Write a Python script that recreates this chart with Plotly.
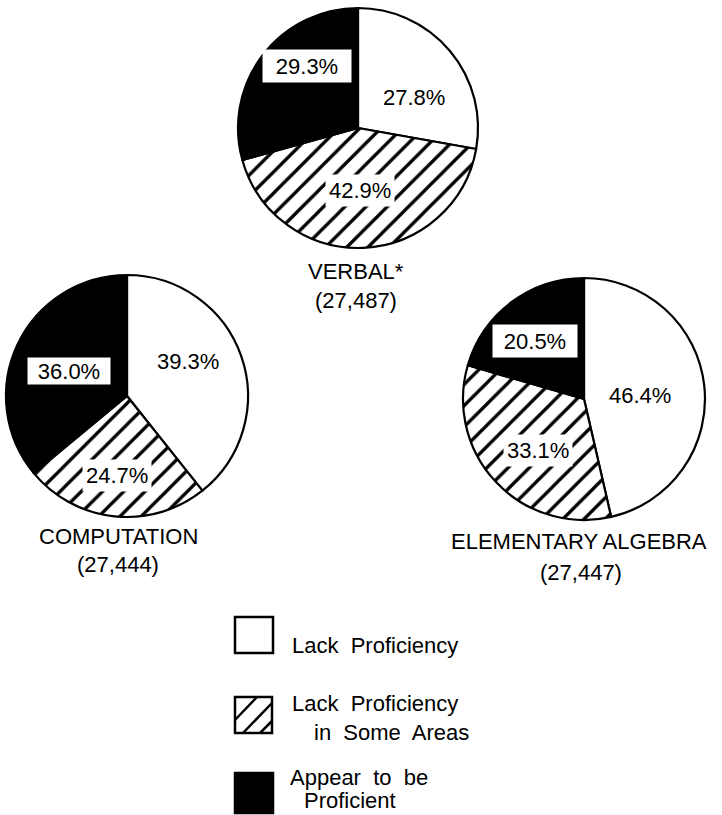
import plotly.graph_objects as go

# Proficiency categories (drawn clockwise from 12 o'clock)
categories = ["Lack Proficiency", "Lack Proficiency in Some Areas", "Appear to be Proficient"]

# Subject areas with number of students tested
subjects = ["VERBAL*", "COMPUTATION", "ELEMENTARY ALGEBRA"]
counts = ["(27,487)", "(27,444)", "(27,447)"]

# Percent of students in each category, per subject
verbal = [27.8, 42.9, 29.3]
computation = [39.3, 24.7, 36.0]
algebra = [46.4, 33.1, 20.5]

W, H = 722, 815
FONT = "Liberation Sans, Arial, Helvetica, sans-serif"


def px(x):
    return x / W


def py(y):
    return 1 - y / H


# pie centre (px) and radius (px)
pie_geom = [((358, 128), 120), ((127, 396), 121), ((584, 399), 121)]
# label centres (px) for each slice of each pie
label_pos = [
    [(414, 98), (360, 190), (307, 66)],
    [(188, 361), (117, 475), (69, 371)],
    [(640, 395), (538, 450), (535, 341)],
]
# white label box sizes for the black slices
box_size = [(82, 26), (76, 20), (78, 26)]
# title centres (px)
title_pos = [(356, 271), (118, 536), (579, 541)]
count_pos = [(356, 300), (118, 564), (581, 572)]

fills = ["white", "white", "black"]
shapes_pat = ["", "/", ""]

fig = go.Figure()
series = [verbal, computation, algebra]
annotations = []


def text_ann(x, y, text, size, **kw):
    d = dict(x=px(x), y=py(y), xref="paper", yref="paper", text=text,
             showarrow=False, xanchor="center", yanchor="middle",
             font=dict(family=FONT, size=size, color="black"))
    d.update(kw)
    return d


for i, vals in enumerate(series):
    (cx, cy), r = pie_geom[i]
    fig.add_trace(go.Pie(
        labels=categories,
        values=vals,
        sort=False,
        direction="clockwise",
        rotation=0,
        textinfo="none",
        hoverinfo="skip",
        showlegend=False,
        marker=dict(
            colors=fills,
            line=dict(color="black", width=2.2),
            pattern=dict(shape=shapes_pat, fgcolor="black", bgcolor="white",
                         size=15, solidity=0.22, fillmode="replace"),
        ),
        domain=dict(x=[px(cx - r), px(cx + r)], y=[py(cy + r), py(cy - r)]),
    ))
    for j, v in enumerate(vals):
        lx, ly = label_pos[i][j]
        extra = {}
        if j == 2:
            bw, bh = box_size[i]
            extra = dict(bgcolor="white", width=bw, height=bh, borderpad=3)
        elif j == 1:
            extra = dict(bgcolor="white", borderpad=3)
        annotations.append(text_ann(lx, ly, f"{v:.1f}%", 22, **extra))
    annotations.append(text_ann(title_pos[i][0], title_pos[i][1], subjects[i], 22))
    annotations.append(text_ann(count_pos[i][0], count_pos[i][1], counts[i], 22))

# Legend: swatches drawn as shapes, labels as text
shapes = []
box = [(235, 617, 273, 653), (235, 697, 272, 733), (235, 773, 273, 813)]
for k, (x0, y0, x1, y1) in enumerate(box):
    shapes.append(dict(type="rect", xref="paper", yref="paper",
                       x0=px(x0), x1=px(x1), y0=py(y1), y1=py(y0),
                       line=dict(color="black", width=2.5),
                       fillcolor="black" if k == 2 else "white"))
x0, y0, x1, y1 = box[1]
for (ax, ay, bx, by) in [(x0, y0 + 23, x0 + 22, y0), (x0 + 8, y1, x1, y0 + 6), (x0 + 25, y1, x1, y1 - 12)]:
    shapes.append(dict(type="line", xref="paper", yref="paper",
                       x0=px(ax), y0=py(ay), x1=px(bx), y1=py(by),
                       line=dict(color="black", width=2.5)))

legend_text = [
    [(290, 645, "Lack  Proficiency")],
    [(290, 703, "Lack  Proficiency"), (312, 732, "in  Some  Areas")],
    [(288, 777, "Appear  to  be"), (302, 800, "Proficient")],
]
for k, lines in enumerate(legend_text):
    for (lx, ly, t) in lines:
        annotations.append(text_ann(lx, ly, t, 22, xanchor="left"))

fig.update_layout(
    width=W, height=H,
    margin=dict(l=0, r=0, t=0, b=0),
    paper_bgcolor="white", plot_bgcolor="white",
    annotations=annotations,
    shapes=shapes,
    showlegend=False,
)

fig.write_html("out.html")
